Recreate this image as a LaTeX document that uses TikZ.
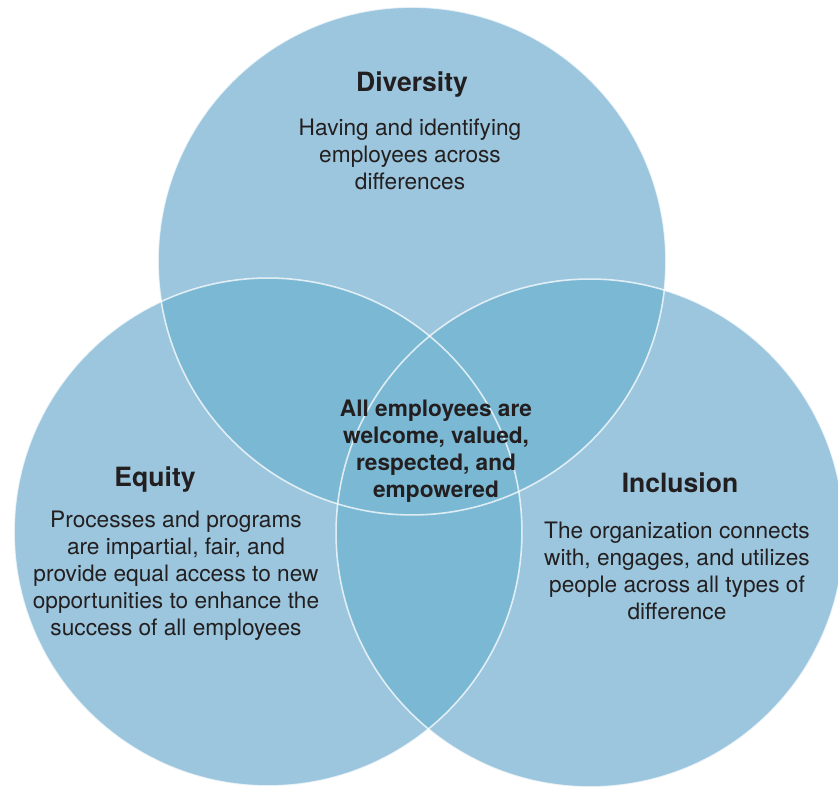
\documentclass[tikz,border=0pt]{standalone}
\usepackage{fontspec}
\setmainfont{TeX Gyre Heros}
\definecolor{setblue}{RGB}{155,198,222}
\definecolor{overlapblue}{RGB}{123,184,212}
\definecolor{inktext}{RGB}{35,31,32}

\begin{document}
\begin{tikzpicture}[
    x=0.02cm, y=-0.02cm,
    setcircle/.style={circle, minimum size=10.16cm, inner sep=0pt, fill=setblue},
    rim/.style={draw=white, draw opacity=0.75, line width=0.9pt},
    settitle/.style={font=\fontsize{15.1}{18}\selectfont\bfseries, text=inktext, inner sep=0pt, anchor=base},
    blurb/.style={font=\fontsize{12.9}{15.3}\selectfont, text=inktext, align=center, inner sep=0pt, anchor=base}
]
\useasboundingbox (0,0) rectangle (838,788);

% the three sets
\node[setcircle] (diversity) at (412,261) {};
\node[setcircle] (equity) at (268,532) {};
\node[setcircle] (inclusion) at (590,533) {};

% overlaps
\begin{scope}
  \clip (diversity.center) circle (5.08cm);
  \fill[overlapblue] (equity.center) circle (5.08cm);
  \fill[overlapblue] (inclusion.center) circle (5.08cm);
\end{scope}
\begin{scope}
  \clip (equity.center) circle (5.08cm);
  \fill[overlapblue] (inclusion.center) circle (5.08cm);
\end{scope}

% white rims
\draw[rim] (diversity.center) circle (5.08cm);
\draw[rim] (equity.center) circle (5.08cm);
\draw[rim] (inclusion.center) circle (5.08cm);

% labels (base = last line)
\node[settitle] (divtitle) at (412,91) {Diversity};
\node[blurb] (divtext) at (410,189) {Having and identifying\\employees across\\differences};

\node[settitle] (eqtitle) at (155,486) {Equity};
\node[blurb] (eqtext) at (176,635) {Processes and programs\\are impartial, fair, and\\provide equal access to new\\opportunities to enhance the\\success of all employees};

\node[settitle] (inctitle) at (680,492) {Inclusion};
\node[blurb] (inctext) at (677,619) {The organization connects\\with, engages, and utilizes\\people across all types of\\difference};

\node[blurb, font=\fontsize{12.9}{15.3}\selectfont\bfseries] (core) at (436,497) {All employees are\\welcome, valued,\\respected, and\\empowered};

\end{tikzpicture}
\end{document}
